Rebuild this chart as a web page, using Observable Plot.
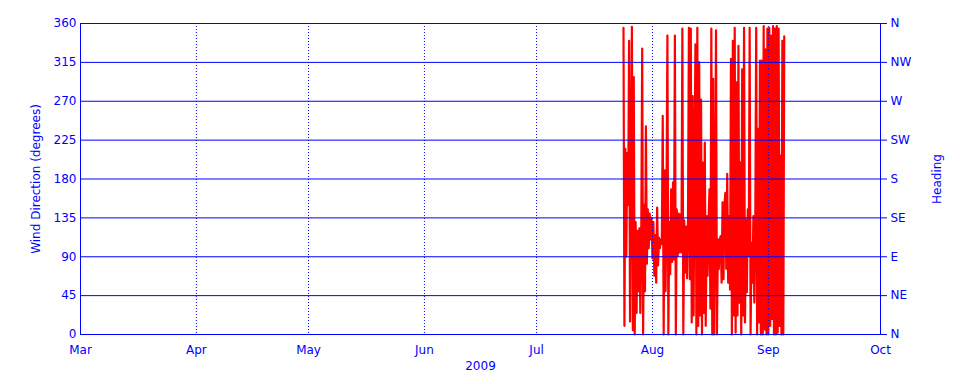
<!DOCTYPE html>
<html>
<head>
<meta charset="utf-8">
<script src="https://cdn.jsdelivr.net/npm/d3@7"></script>
<script src="https://cdn.jsdelivr.net/npm/@observablehq/plot@0.6"></script>
<style>
  html, body { margin: 0; padding: 0; background: #fff; }
</style>
</head>
<body>
<div id="chart"></div>
<script>
// Wind direction samples, every 6 hours starting at seriesStart
const seriesStart = "2009-07-24T06:00:00Z";
const stepHours = 6;
const windDirection = [
  355, 10, 215, 90, 210, 150, 340, 15, 200, 356,
  5, 298, 0, 130, 25, 120, 50, 123, 25, 110,
  331, 0, 150, 50, 241, 82, 145, 100, 140, 110,
  135, 88, 130, 68, 115, 60, 147, 80, 112, 100,
  110, 105, 253, 0, 190, 50, 150, 346, 0, 130,
  70, 168, 84, 176, 87, 346, 0, 145, 91, 140,
  95, 139, 95, 354, 0, 132, 72, 125, 65, 130,
  355, 64, 354, 14, 276, 22, 200, 336, 0, 355,
  10, 315, 22, 272, 0, 199, 25, 222, 10, 137,
  68, 130, 168, 30, 354, 0, 296, 0, 114, 352,
  0, 110, 76, 110, 114, 60, 153, 64, 150, 164,
  76, 186, 60, 137, 52, 319, 0, 340, 22, 355,
  2, 292, 22, 334, 37, 199, 0, 307, 22, 355,
  14, 133, 49, 145, 91, 355, 0, 106, 60, 137,
  37, 122, 355, 0, 238, 14, 317, 0, 317, 0,
  357, 6, 330, 0, 354, 0, 355, 10, 346, 18,
  357, 0, 354, 0, 357, 2, 354, 10, 207, 0,
  340, 0, 345
];

const xDomain = ["2009-03-01", "2009-10-01"];
const monthTicks = ["2009-03-01", "2009-04-01", "2009-05-01", "2009-06-01", "2009-07-01", "2009-08-01", "2009-09-01", "2009-10-01"];
const monthGrid = ["2009-04-01", "2009-05-01", "2009-06-01", "2009-07-01", "2009-08-01", "2009-09-01"];
const degreeTicks = [0, 45, 90, 135, 180, 225, 270, 315, 360];
const headingLabels = ["N", "NE", "E", "SE", "S", "SW", "W", "NW", "N"];

const t0 = new Date(seriesStart).getTime();
const data = windDirection.map((v, i) => ({date: new Date(t0 + i * stepHours * 3600e3), value: v}));

const chart = Plot.plot({
  width: 960,
  height: 384,
  marginLeft: 80,
  marginRight: 80,
  marginTop: 23,
  marginBottom: 50,
  style: {color: "#0000ff", fontFamily: "DejaVu Sans", fontSize: "12px", background: "#fff"},
  x: {type: "utc", domain: xDomain.map(d => new Date(d))},
  y: {domain: [0, 360]},
  marks: [
    Plot.line(data, {x: "date", y: "value", stroke: "#ff0000", strokeWidth: 2.2}),
    Plot.gridY(degreeTicks, {stroke: "#0000ff", strokeOpacity: 1, strokeWidth: 1}),
    Plot.gridX(monthGrid.map(d => new Date(d)), {stroke: "#0000ff", strokeOpacity: 1, strokeWidth: 1, strokeDasharray: "1,2"}),
    Plot.frame({stroke: "#0000ff", strokeWidth: 1}),
    Plot.axisY(degreeTicks, {anchor: "left", tickSize: 0, tickPadding: 4, label: "Wind Direction (degrees)", labelAnchor: "center", labelArrow: "none", labelOffset: 49}),
    Plot.axisY(degreeTicks, {anchor: "right", tickSize: 6, tickPadding: 4, tickFormat: d => headingLabels[degreeTicks.indexOf(d)], label: "Heading", labelAnchor: "center", labelArrow: "none", labelOffset: 60}),
    Plot.axisX(monthTicks.map(d => new Date(d)), {anchor: "bottom", tickSize: 0, tickPadding: 11, tickFormat: d3.utcFormat("%b"), label: "2009", labelAnchor: "center", labelArrow: "none", labelOffset: 35})
  ]
});
document.getElementById("chart").appendChild(chart);
</script>
</body>
</html>
